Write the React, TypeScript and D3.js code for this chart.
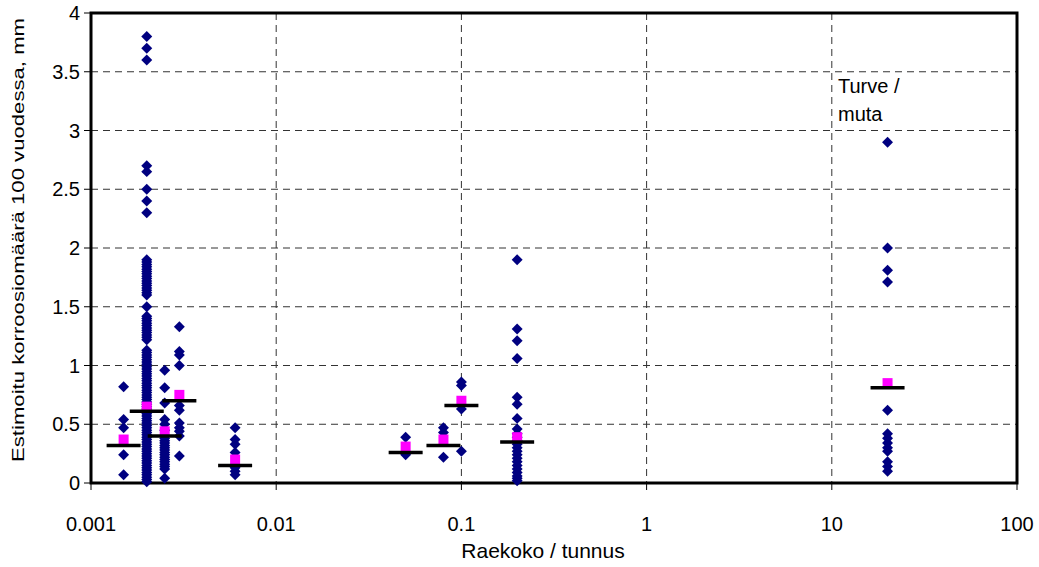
import React from 'react';
import * as d3 from 'd3';

const width = 1039;
const height = 567;
const plot = { left: 91, right: 1017, top: 13, bottom: 483 };

// grain size (x) of each measurement column
const grainSizes = [0.0015, 0.002, 0.0025, 0.003, 0.006, 0.05, 0.08, 0.1, 0.2, 20];

// estimated corrosion in 100 years, mm, per column
const vals0015 = [0.82, 0.54, 0.47, 0.24, 0.07];
const vals002 = [
  3.8, 3.7, 3.6, 2.7, 2.65, 2.5, 2.4, 2.3,
  1.9, 1.88, 1.86, 1.84, 1.82, 1.8, 1.78, 1.76, 1.74, 1.72, 1.7, 1.68, 1.66, 1.64, 1.62, 1.6,
  1.5, 1.42, 1.4, 1.38, 1.36, 1.34, 1.32, 1.3, 1.28, 1.26, 1.24, 1.22,
  1.13, 1.11, 1.09, 1.07, 1.05, 1.03, 1.01, 0.99, 0.97, 0.95, 0.93, 0.91, 0.89, 0.87, 0.85,
  0.83, 0.81, 0.79, 0.77, 0.75, 0.73, 0.71, 0.69, 0.67, 0.65, 0.63, 0.61, 0.59, 0.57, 0.55,
  0.53, 0.51, 0.49, 0.47, 0.45, 0.43, 0.41, 0.39, 0.37, 0.35, 0.33, 0.31, 0.29, 0.27, 0.25,
  0.23, 0.21, 0.19, 0.17, 0.15, 0.13, 0.11, 0.09, 0.07, 0.05, 0.03, 0.01,
];
const vals0025 = [
  0.96, 0.81, 0.68, 0.54, 0.5, 0.45, 0.38, 0.36, 0.34, 0.32, 0.3, 0.28, 0.26, 0.24, 0.22,
  0.2, 0.18, 0.16, 0.14, 0.12, 0.04,
];
const vals003 = [1.33, 1.12, 1.09, 1.0, 0.66, 0.62, 0.51, 0.47, 0.44, 0.4, 0.23];
const vals006 = [0.47, 0.37, 0.33, 0.26, 0.13, 0.1, 0.07];
const vals005 = [0.39, 0.24];
const vals008 = [0.47, 0.43, 0.22];
const vals01 = [0.86, 0.83, 0.63, 0.27];
const vals02 = [
  1.9, 1.31, 1.21, 1.06, 0.73, 0.67, 0.55, 0.46, 0.42, 0.39, 0.36, 0.33, 0.3, 0.27, 0.24,
  0.21, 0.18, 0.15, 0.12, 0.09, 0.06, 0.04, 0.02,
];
const vals20 = [2.9, 2.0, 1.81, 1.71, 0.62, 0.42, 0.38, 0.34, 0.3, 0.27, 0.18, 0.14, 0.1];

const columnValues = [vals0015, vals002, vals0025, vals003, vals006, vals005, vals008, vals01, vals02, vals20];

// pink squares (mean) and black bars (median)
const means = [0.37, 0.65, 0.44, 0.75, 0.2, 0.31, 0.37, 0.7, 0.39, 0.85];
const medians = [0.32, 0.61, 0.4, 0.7, 0.15, 0.26, 0.32, 0.66, 0.35, 0.81];

const yTicks = [0, 0.5, 1, 1.5, 2, 2.5, 3, 3.5, 4];
const yTickLabels = ['0', '0.5', '1', '1.5', '2', '2.5', '3', '3.5', '4'];
const xTicks = [0.001, 0.01, 0.1, 1, 10, 100];
const xTickLabels = ['0.001', '0.01', '0.1', '1', '10', '100'];

const font = 'Liberation Sans, Arial, sans-serif';

export default function App() {
  const x = d3.scaleLog().domain([0.001, 100]).range([plot.left, plot.right]);
  const y = d3.scaleLinear().domain([0, 4]).range([plot.bottom, plot.top]);
  const diamond = d3.symbol(d3.symbolSquare, 60)();

  const points = columnValues.flatMap((vals, i) => vals.map((v) => ({ gx: grainSizes[i], v })));

  return (
    <svg width={width} height={height} style={{ position: 'absolute', left: 0, top: 0, background: '#fff' }}>
      {/* grid */}
      {yTicks.slice(1, -1).map((t) => (
        <line key={'gy' + t} x1={plot.left} x2={plot.right} y1={y(t)} y2={y(t)}
          stroke="#333" strokeWidth={1} strokeDasharray="7,5" />
      ))}
      {xTicks.slice(1, -1).map((t) => (
        <line key={'gx' + t} x1={x(t)} x2={x(t)} y1={plot.top} y2={plot.bottom}
          stroke="#333" strokeWidth={1} strokeDasharray="7,5" />
      ))}

      {/* ticks */}
      {yTicks.map((t, i) => (
        <g key={'yt' + t}>
          <line x1={plot.left - 7} x2={plot.left} y1={y(t)} y2={y(t)} stroke="#000" />
          <text x={80} y={y(t)} dy="0.35em" textAnchor="end" fontFamily={font} fontSize={20}>
            {yTickLabels[i]}
          </text>
        </g>
      ))}
      {xTicks.map((t, i) => (
        <g key={'xt' + t}>
          <line x1={x(t)} x2={x(t)} y1={plot.bottom} y2={plot.bottom + 7} stroke="#000" />
          <text x={x(t)} y={531} textAnchor="middle" fontFamily={font} fontSize={20}>
            {xTickLabels[i]}
          </text>
        </g>
      ))}

      {/* frame */}
      <rect x={plot.left} y={plot.top} width={plot.right - plot.left} height={plot.bottom - plot.top}
        fill="none" stroke="#000" strokeWidth={3} />

      {/* data points */}
      {points.map((p, i) => (
        <path key={'p' + i} d={diamond} fill="#000080"
          transform={`translate(${x(p.gx)},${y(p.v)}) rotate(45)`} />
      ))}

      {/* means */}
      {means.map((m, i) => (
        <rect key={'m' + i} x={x(grainSizes[i]) - 5} y={y(m) - 5} width={10} height={10} fill="#ff00ff" />
      ))}

      {/* medians */}
      {medians.map((m, i) => (
        <line key={'md' + i} x1={x(grainSizes[i]) - 17} x2={x(grainSizes[i]) + 17} y1={y(m)} y2={y(m)}
          stroke="#000" strokeWidth={3.5} />
      ))}

      <text x={838} y={93} fontFamily={font} fontSize={20}>Turve /</text>
      <text x={838} y={121} fontFamily={font} fontSize={20}>muta</text>

      <text x={543} y={558} textAnchor="middle" fontFamily={font} fontSize={21}>Raekoko / tunnus</text>
      <text transform={`translate(24,240) rotate(-90)`} textAnchor="middle" fontFamily={font} fontSize={17}
        textLength={444} lengthAdjust="spacingAndGlyphs">
        Estimoitu korroosiomäärä 100 vuodessa, mm
      </text>
    </svg>
  );
}
